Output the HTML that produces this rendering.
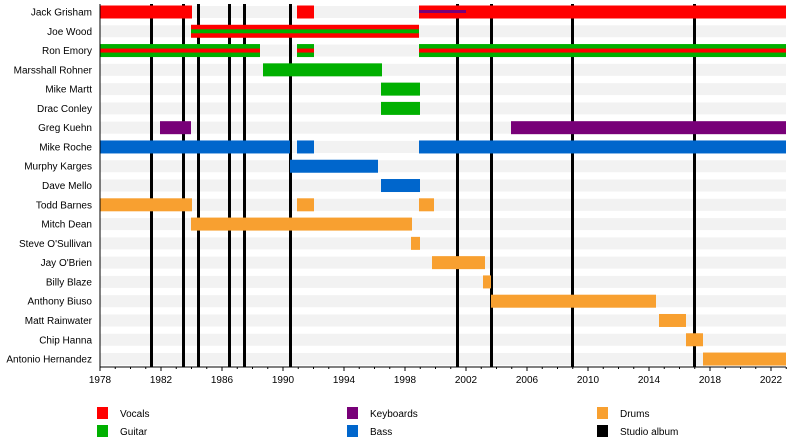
<!DOCTYPE html>
<html><head><style>body{margin:0;background:#fff}svg{display:block}text{font-family:"Liberation Sans",sans-serif;font-size:10px;fill:#000}</style></head><body>
<svg width="800" height="445" xmlns="http://www.w3.org/2000/svg">
<g id="bg" fill="#f2f2f2"></g>
<g id="albums" fill="#000"></g>
<g id="bars"></g>
<g id="axis"></g>
<g id="labels"></g>
<g id="legend">
<rect x="97" y="407" width="11" height="12" fill="#ff0000"/><text x="120" y="417">Vocals</text>
<rect x="97" y="425" width="11" height="12" fill="#00b000"/><text x="120" y="435">Guitar</text>
<rect x="347" y="407" width="11" height="12" fill="#780078"/><text x="370" y="417">Keyboards</text>
<rect x="347" y="425" width="11" height="12" fill="#0066cc"/><text x="370" y="435">Bass</text>
<rect x="597" y="407" width="11" height="12" fill="#f8a030"/><text x="620" y="417">Drums</text>
<rect x="597" y="425" width="11" height="12" fill="#000"/><text x="620" y="435">Studio album</text>
</g>
<script>
var ns="http://www.w3.org/2000/svg";
function el(p,t,a,txt){var e=document.createElementNS(ns,t);for(var k in a)e.setAttribute(k,a[k]);if(txt)e.textContent=txt;document.getElementById(p).appendChild(e);}
var names=["Jack Grisham","Joe Wood","Ron Emory","Marsshall Rohner","Mike Martt","Drac Conley","Greg Kuehn","Mike Roche","Murphy Karges","Dave Mello","Todd Barnes","Mitch Dean","Steve O'Sullivan","Jay O'Brien","Billy Blaze","Anthony Biuso","Matt Rainwater","Chip Hanna","Antonio Hernandez"];
var R="#ff0000",G="#00b000",P="#780078",B="#0066cc",O="#f8a030";
var bars=[
[[100,192,R],[297,314,R],[419,786,R]],
[[191,419,R,G]],
[[100,260,G,R],[297,314,G,R],[419,786,G,R]],
[[263,382,G]],
[[381,420,G]],
[[381,420,G]],
[[160,191,P],[511,786,P]],
[[100,290,B],[297,314,B],[419,786,B]],
[[290,378,B]],
[[381,420,B]],
[[100,192,O],[297,314,O],[419,434,O]],
[[191,412,O]],
[[411,420,O]],
[[432,485,O]],
[[483,491,O]],
[[491,656,O]],
[[659,686,O]],
[[686,703,O]],
[[703,786,O]]];
[151,183,198,229,244,290,457,491,572,694].forEach(function(x){el("albums","rect",{x:x-1,y:4,width:3,height:363});});
for(var i=0;i<19;i++){var c=12+i*19.28;
el("bg","rect",{x:100,y:c-6,width:686,height:12});
el("labels","text",{x:92,y:c+3.5,"text-anchor":"end"},names[i]);
bars[i].forEach(function(b){el("bars","rect",{x:b[0],y:c-6.5,width:b[1]-b[0],height:13,fill:b[2]});
if(b[3])el("bars","rect",{x:b[0],y:c-2,width:b[1]-b[0],height:4,fill:b[3]});});}
el("bars","rect",{x:419,y:10,width:47,height:3,fill:P});
el("axis","rect",{x:99.5,y:4,width:1,height:363,fill:"#000"});
el("axis","rect",{x:100,y:366.5,width:686,height:1,fill:"#000"});
var px=15.25;
for(var y=1978;y<=2023;y++){var x=100+(y-1978)*px;var maj=(y-1978)%4==0;
el("axis","rect",{x:x-0.5,y:367,width:1,height:maj?4:2,fill:"#000"});
if(maj)el("axis","text",{x:x,y:383,"text-anchor":"middle"},String(y));}
</script>
</svg>
</body></html>
